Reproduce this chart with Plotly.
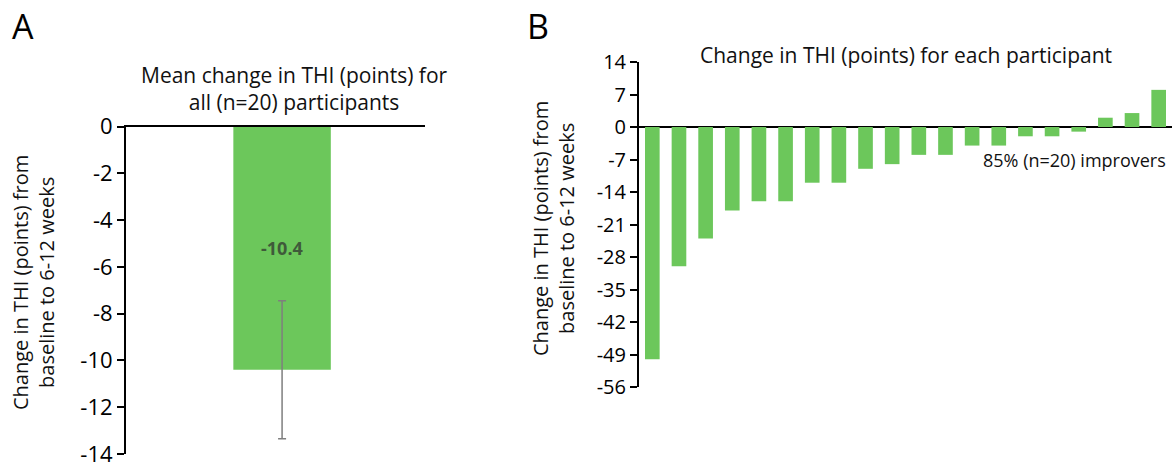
import plotly.graph_objects as go

W, H = 1174, 466

# ---- data ----
mean_label = ["All participants"]
mean_change = [-10.4]
mean_err = [2.95]

participants = [f"P{i}" for i in range(1, 21)]
participant_change = [-50, -30, -24, -18, -16, -16, -12, -12, -9, -8,
                      -6, -6, -4, -4, -2, -2, -1, 2, 3, 8]

a_ticks = [0, -2, -4, -6, -8, -10, -12, -14]
b_ticks = [14, 7, 0, -7, -14, -21, -28, -35, -42, -49, -56]

GREEN = "#6CC75B"
FONT = "Open Sans"

def px(x):
    return x / W

def py(y):
    return (H - y) / H

fig = go.Figure()

fig.add_trace(go.Bar(
    x=mean_label, y=mean_change, width=0.326,
    marker=dict(color=GREEN, line=dict(width=0)),
    error_y=dict(type="data", array=mean_err, visible=True,
                 color="#7f7f7f", thickness=1.5, width=4),
    xaxis="x", yaxis="y", showlegend=False,
))

fig.add_trace(go.Bar(
    x=participants, y=participant_change, width=0.55,
    marker=dict(color=GREEN, line=dict(width=0)),
    xaxis="x2", yaxis="y2", showlegend=False,
))

axis_common = dict(showgrid=False, linecolor="black", linewidth=2,
                   ticks="outside", ticklen=7, tickwidth=2, tickcolor="black",
                   automargin=False, ticklabeloverflow="allow")

fig.update_layout(
    template="none",
    width=W, height=H,
    margin=dict(l=0, r=0, t=0, b=0, pad=0, autoexpand=False),
    paper_bgcolor="white", plot_bgcolor="white",
    font=dict(family=FONT, color="#111111"),
    xaxis=dict(domain=[px(126), px(425)], range=[-0.522, 0.478],
               side="top", showline=True, linecolor="black", linewidth=2,
               showticklabels=False, ticks="", showgrid=False,
               zeroline=False, anchor="y", automargin=False),
    yaxis=dict(domain=[py(454), py(126.7)], range=[-14, 0],
               tickvals=a_ticks, ticktext=[str(t) for t in a_ticks],
               showline=True, zeroline=False, anchor="x",
               tickfont=dict(size=22, color="black", family=FONT),
               **axis_common),
    xaxis2=dict(domain=[px(639), px(1172)], range=[-0.5, 19.5],
                showline=False, showticklabels=False, ticks="",
                showgrid=False, zeroline=False, anchor="y2", automargin=False),
    yaxis2=dict(domain=[py(387), py(62)], range=[-56, 14],
                tickvals=b_ticks, ticktext=[str(t) for t in b_ticks],
                showline=True, zeroline=True, zerolinecolor="black",
                zerolinewidth=2, anchor="x2",
                tickfont=dict(size=20, color="black", family=FONT),
                **axis_common),
)

ann = []
ann.append(dict(text="A", x=px(10), y=py(26), xref="paper", yref="paper",
                xanchor="left", yanchor="middle", showarrow=False,
                font=dict(size=34, color="black")))
ann.append(dict(text="B", x=px(525), y=py(26), xref="paper", yref="paper",
                xanchor="left", yanchor="middle", showarrow=False,
                font=dict(size=34, color="black")))
ann.append(dict(text="Mean change in THI (points) for<br>all (n=20) participants",
                x=px(295), y=py(88), xref="paper", yref="paper",
                xanchor="center", yanchor="middle", showarrow=False,
                font=dict(size=21)))
ann.append(dict(text="Change in THI (points) for each participant",
                x=px(906), y=py(55), xref="paper", yref="paper",
                xanchor="center", yanchor="middle", showarrow=False,
                font=dict(size=21)))
ann.append(dict(text="Change in THI (points) from<br>baseline to 6-12 weeks",
                x=px(33), y=py(283), xref="paper", yref="paper",
                xanchor="center", yanchor="middle", showarrow=False,
                textangle=-90, font=dict(size=20)))
ann.append(dict(text="Change in THI (points) from<br>baseline to 6-12 weeks",
                x=px(553), y=py(229), xref="paper", yref="paper",
                xanchor="center", yanchor="middle", showarrow=False,
                textangle=-90, font=dict(size=20)))
n_improve = sum(1 for v in participant_change if v < 0)
pct = round(100 * n_improve / len(participant_change))
ann.append(dict(text=f"{pct}% (n={len(participant_change)}) improvers",
                x=px(1168), y=py(160), xref="paper", yref="paper",
                xanchor="right", yanchor="middle", showarrow=False,
                font=dict(size=18)))
ann.append(dict(text=f"<b>{mean_change[0]}</b>",
                x=mean_label[0], y=mean_change[0] / 2, xref="x", yref="y",
                xanchor="center", yanchor="middle", showarrow=False,
                font=dict(size=18, color="#3f5a3a")))
fig.update_layout(annotations=ann)

fig.write_html("out.html",
               config={"displayModeBar": False},
               post_script="document.body.style.margin='0';document.body.style.overflow='hidden';")
